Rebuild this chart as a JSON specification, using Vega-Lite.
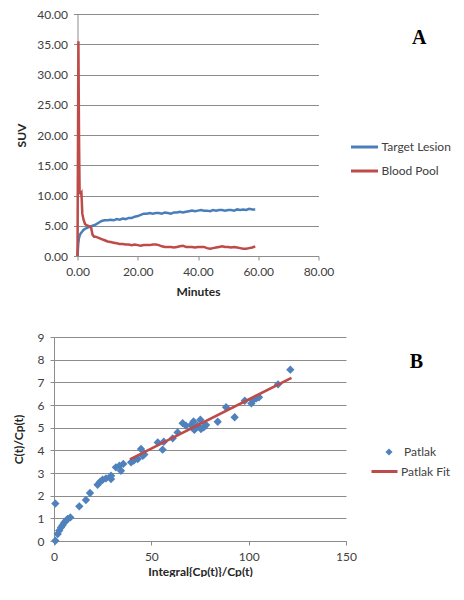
{
  "$schema": "https://vega.github.io/schema/vega-lite/v6.json",
  "background": "white",
  "padding": {"left": 12, "top": 8, "right": 0, "bottom": 0},
  "config": {
    "font": "Lato",
    "view": {"stroke": null},
    "axis": {
      "labelColor": "#404040",
      "titleColor": "#262626",
      "labelFontSize": 12,
      "titleFontSize": 12,
      "titleFontWeight": "bold",
      "gridColor": "#8c8c8c",
      "domainColor": "#8c8c8c",
      "tickColor": "#8c8c8c",
      "tickSize": 4,
      "labelPadding": 6,
      "labelFlush": false,
      "labelOverlap": false
    },
    "legend": {"labelFontSize": 12, "labelColor": "#404040", "padding": 0}
  },
  "columns": 1,
  "center": true,
  "spacing": 34,
  "resolve": {
    "scale": {"color": "independent", "stroke": "independent"},
    "legend": {"color": "independent", "stroke": "independent"}
  },
  "concat": [
    {
      "width": 241,
      "height": 242,
      "title": {"text": "A", "anchor": "end", "frame": "group", "font": "Liberation Serif", "fontSize": 20, "fontWeight": "bold", "color": "black", "dx": 108, "dy": 56, "offset": 0, "baseline": "alphabetic"},
      "data": {"values": [
        {"series": "Target Lesion", "t": 0, "v": 0},
        {"series": "Target Lesion", "t": 0.25, "v": 2.0},
        {"series": "Target Lesion", "t": 0.5, "v": 3.0},
        {"series": "Target Lesion", "t": 0.75, "v": 3.4},
        {"series": "Target Lesion", "t": 1, "v": 3.7},
        {"series": "Target Lesion", "t": 1.5, "v": 4.0},
        {"series": "Target Lesion", "t": 2, "v": 4.3},
        {"series": "Target Lesion", "t": 2.5, "v": 4.5},
        {"series": "Target Lesion", "t": 3, "v": 4.6},
        {"series": "Target Lesion", "t": 4, "v": 4.8},
        {"series": "Target Lesion", "t": 5, "v": 5.0},
        {"series": "Target Lesion", "t": 6, "v": 5.2},
        {"series": "Target Lesion", "t": 7, "v": 5.5},
        {"series": "Target Lesion", "t": 8, "v": 5.8},
        {"series": "Target Lesion", "t": 9, "v": 5.9},
        {"series": "Target Lesion", "t": 10, "v": 5.9},
        {"series": "Target Lesion", "t": 11, "v": 6.0},
        {"series": "Target Lesion", "t": 12, "v": 5.9},
        {"series": "Target Lesion", "t": 13, "v": 6.1},
        {"series": "Target Lesion", "t": 14, "v": 6.0},
        {"series": "Target Lesion", "t": 15, "v": 6.2},
        {"series": "Target Lesion", "t": 16, "v": 6.1},
        {"series": "Target Lesion", "t": 17, "v": 6.3},
        {"series": "Target Lesion", "t": 18, "v": 6.3},
        {"series": "Target Lesion", "t": 19, "v": 6.5},
        {"series": "Target Lesion", "t": 20, "v": 6.6},
        {"series": "Target Lesion", "t": 21, "v": 6.8},
        {"series": "Target Lesion", "t": 22, "v": 7.0},
        {"series": "Target Lesion", "t": 23, "v": 7.0},
        {"series": "Target Lesion", "t": 24, "v": 7.1},
        {"series": "Target Lesion", "t": 25, "v": 7.0},
        {"series": "Target Lesion", "t": 26, "v": 7.1},
        {"series": "Target Lesion", "t": 27, "v": 7.1},
        {"series": "Target Lesion", "t": 28, "v": 7.0},
        {"series": "Target Lesion", "t": 29, "v": 7.2},
        {"series": "Target Lesion", "t": 30, "v": 7.1},
        {"series": "Target Lesion", "t": 31, "v": 7.0},
        {"series": "Target Lesion", "t": 32, "v": 7.2},
        {"series": "Target Lesion", "t": 33, "v": 7.2},
        {"series": "Target Lesion", "t": 34, "v": 7.3},
        {"series": "Target Lesion", "t": 35, "v": 7.2},
        {"series": "Target Lesion", "t": 36, "v": 7.3},
        {"series": "Target Lesion", "t": 37, "v": 7.4},
        {"series": "Target Lesion", "t": 38, "v": 7.5},
        {"series": "Target Lesion", "t": 39, "v": 7.4},
        {"series": "Target Lesion", "t": 40, "v": 7.5},
        {"series": "Target Lesion", "t": 41, "v": 7.6},
        {"series": "Target Lesion", "t": 42, "v": 7.5},
        {"series": "Target Lesion", "t": 43, "v": 7.5},
        {"series": "Target Lesion", "t": 44, "v": 7.4},
        {"series": "Target Lesion", "t": 45, "v": 7.6},
        {"series": "Target Lesion", "t": 46, "v": 7.5},
        {"series": "Target Lesion", "t": 47, "v": 7.6},
        {"series": "Target Lesion", "t": 48, "v": 7.6},
        {"series": "Target Lesion", "t": 49, "v": 7.5},
        {"series": "Target Lesion", "t": 50, "v": 7.6},
        {"series": "Target Lesion", "t": 51, "v": 7.6},
        {"series": "Target Lesion", "t": 52, "v": 7.5},
        {"series": "Target Lesion", "t": 53, "v": 7.7},
        {"series": "Target Lesion", "t": 54, "v": 7.6},
        {"series": "Target Lesion", "t": 55, "v": 7.7},
        {"series": "Target Lesion", "t": 56, "v": 7.6},
        {"series": "Target Lesion", "t": 57, "v": 7.8},
        {"series": "Target Lesion", "t": 58, "v": 7.7},
        {"series": "Target Lesion", "t": 59, "v": 7.7},
        {"series": "Blood Pool", "t": 0, "v": 0},
        {"series": "Blood Pool", "t": 0.3, "v": 35.5},
        {"series": "Blood Pool", "t": 0.5, "v": 20},
        {"series": "Blood Pool", "t": 0.7, "v": 10.5},
        {"series": "Blood Pool", "t": 1.0, "v": 10.3},
        {"series": "Blood Pool", "t": 1.3, "v": 10.5},
        {"series": "Blood Pool", "t": 1.6, "v": 7.0},
        {"series": "Blood Pool", "t": 2, "v": 6.0},
        {"series": "Blood Pool", "t": 2.5, "v": 5.3},
        {"series": "Blood Pool", "t": 3, "v": 5.1},
        {"series": "Blood Pool", "t": 4, "v": 4.9},
        {"series": "Blood Pool", "t": 4.5, "v": 4.7},
        {"series": "Blood Pool", "t": 5, "v": 3.5},
        {"series": "Blood Pool", "t": 5.5, "v": 3.2},
        {"series": "Blood Pool", "t": 6, "v": 3.2},
        {"series": "Blood Pool", "t": 7, "v": 3.0},
        {"series": "Blood Pool", "t": 8, "v": 2.8},
        {"series": "Blood Pool", "t": 9, "v": 2.6},
        {"series": "Blood Pool", "t": 10, "v": 2.4},
        {"series": "Blood Pool", "t": 11, "v": 2.3},
        {"series": "Blood Pool", "t": 12, "v": 2.2},
        {"series": "Blood Pool", "t": 13, "v": 2.1},
        {"series": "Blood Pool", "t": 14, "v": 2.0},
        {"series": "Blood Pool", "t": 15, "v": 2.0},
        {"series": "Blood Pool", "t": 16, "v": 1.9},
        {"series": "Blood Pool", "t": 17, "v": 1.9},
        {"series": "Blood Pool", "t": 18, "v": 1.8},
        {"series": "Blood Pool", "t": 19, "v": 1.9},
        {"series": "Blood Pool", "t": 20, "v": 1.8},
        {"series": "Blood Pool", "t": 21, "v": 1.7},
        {"series": "Blood Pool", "t": 22, "v": 1.8},
        {"series": "Blood Pool", "t": 23, "v": 1.8},
        {"series": "Blood Pool", "t": 24, "v": 1.8},
        {"series": "Blood Pool", "t": 25, "v": 1.9},
        {"series": "Blood Pool", "t": 26, "v": 1.9},
        {"series": "Blood Pool", "t": 27, "v": 1.8},
        {"series": "Blood Pool", "t": 28, "v": 1.6},
        {"series": "Blood Pool", "t": 29, "v": 1.5},
        {"series": "Blood Pool", "t": 30, "v": 1.5},
        {"series": "Blood Pool", "t": 31, "v": 1.5},
        {"series": "Blood Pool", "t": 32, "v": 1.4},
        {"series": "Blood Pool", "t": 33, "v": 1.5},
        {"series": "Blood Pool", "t": 34, "v": 1.6},
        {"series": "Blood Pool", "t": 35, "v": 1.7},
        {"series": "Blood Pool", "t": 36, "v": 1.5},
        {"series": "Blood Pool", "t": 37, "v": 1.5},
        {"series": "Blood Pool", "t": 38, "v": 1.5},
        {"series": "Blood Pool", "t": 39, "v": 1.4},
        {"series": "Blood Pool", "t": 40, "v": 1.5},
        {"series": "Blood Pool", "t": 41, "v": 1.5},
        {"series": "Blood Pool", "t": 42, "v": 1.5},
        {"series": "Blood Pool", "t": 43, "v": 1.3},
        {"series": "Blood Pool", "t": 44, "v": 1.2},
        {"series": "Blood Pool", "t": 45, "v": 1.3},
        {"series": "Blood Pool", "t": 46, "v": 1.4},
        {"series": "Blood Pool", "t": 47, "v": 1.5},
        {"series": "Blood Pool", "t": 48, "v": 1.6},
        {"series": "Blood Pool", "t": 49, "v": 1.5},
        {"series": "Blood Pool", "t": 50, "v": 1.5},
        {"series": "Blood Pool", "t": 51, "v": 1.4},
        {"series": "Blood Pool", "t": 52, "v": 1.5},
        {"series": "Blood Pool", "t": 53, "v": 1.4},
        {"series": "Blood Pool", "t": 54, "v": 1.3},
        {"series": "Blood Pool", "t": 55, "v": 1.2},
        {"series": "Blood Pool", "t": 56, "v": 1.2},
        {"series": "Blood Pool", "t": 57, "v": 1.3},
        {"series": "Blood Pool", "t": 58, "v": 1.4},
        {"series": "Blood Pool", "t": 59, "v": 1.6}
      ]},
      "mark": {"type": "line", "strokeWidth": 2.5},
      "encoding": {
        "x": {"field": "t", "type": "quantitative", "scale": {"domain": [0, 80], "nice": false},
              "axis": {"title": "Minutes", "values": [0, 20, 40, 60, 80], "format": ".2f", "grid": false, "titlePadding": 9}},
        "y": {"field": "v", "type": "quantitative", "scale": {"domain": [0, 40], "nice": false},
              "axis": {"title": "SUV", "values": [0, 5, 10, 15, 20, 25, 30, 35, 40], "format": ".2f", "grid": true, "titlePadding": 8}},
        "color": {"field": "series", "type": "nominal",
                  "scale": {"domain": ["Target Lesion", "Blood Pool"], "range": ["#4A7EBB", "#BE4B48"]},
                  "legend": {"title": null, "orient": "none", "legendX": 272, "legendY": 118, "symbolType": "stroke", "symbolSize": 729, "symbolStrokeWidth": 3, "labelOffset": 2, "rowPadding": 3}}
      }
    },
    {
      "width": 292,
      "height": 204,
      "title": {"text": "B", "anchor": "end", "frame": "group", "font": "Liberation Serif", "fontSize": 20, "fontWeight": "bold", "color": "black", "dx": 77, "dy": 57, "offset": 0, "baseline": "alphabetic"},
      "encoding": {
        "x": {"field": "x", "type": "quantitative", "scale": {"domain": [0, 150], "nice": false},
              "axis": {"title": "Integral{Cp(t)}/Cp(t)", "values": [0, 50, 100, 150], "grid": false, "titlePadding": 4}},
        "y": {"field": "y", "type": "quantitative", "scale": {"domain": [0, 9], "nice": false},
              "axis": {"title": "C(t)/Cp(t)", "values": [0, 1, 2, 3, 4, 5, 6, 7, 8, 9], "grid": true, "titlePadding": 12}}
      },
      "layer": [
        {
          "data": {"values": [
            {"series": "Patlak", "x": 0.7, "y": 1.65},
            {"series": "Patlak", "x": 0.7, "y": 0.01},
            {"series": "Patlak", "x": 1.9, "y": 0.31},
            {"series": "Patlak", "x": 2.7, "y": 0.46},
            {"series": "Patlak", "x": 3.6, "y": 0.6},
            {"series": "Patlak", "x": 4.4, "y": 0.7},
            {"series": "Patlak", "x": 5.3, "y": 0.82},
            {"series": "Patlak", "x": 6.2, "y": 0.9},
            {"series": "Patlak", "x": 7.0, "y": 0.97},
            {"series": "Patlak", "x": 8.4, "y": 1.04},
            {"series": "Patlak", "x": 13.0, "y": 1.53},
            {"series": "Patlak", "x": 16.4, "y": 1.81},
            {"series": "Patlak", "x": 18.5, "y": 2.12},
            {"series": "Patlak", "x": 22.4, "y": 2.48},
            {"series": "Patlak", "x": 23.8, "y": 2.62},
            {"series": "Patlak", "x": 25.0, "y": 2.7},
            {"series": "Patlak", "x": 26.7, "y": 2.76},
            {"series": "Patlak", "x": 29.3, "y": 2.88},
            {"series": "Patlak", "x": 29.3, "y": 2.73},
            {"series": "Patlak", "x": 31.8, "y": 3.25},
            {"series": "Patlak", "x": 33.6, "y": 3.32},
            {"series": "Patlak", "x": 34.4, "y": 3.1},
            {"series": "Patlak", "x": 35.6, "y": 3.4},
            {"series": "Patlak", "x": 39.6, "y": 3.47},
            {"series": "Patlak", "x": 41.0, "y": 3.55},
            {"series": "Patlak", "x": 43.0, "y": 3.62},
            {"series": "Patlak", "x": 44.7, "y": 4.06},
            {"series": "Patlak", "x": 45.6, "y": 3.76},
            {"series": "Patlak", "x": 46.4, "y": 3.82},
            {"series": "Patlak", "x": 53.3, "y": 4.35},
            {"series": "Patlak", "x": 56.4, "y": 4.38},
            {"series": "Patlak", "x": 55.8, "y": 4.03},
            {"series": "Patlak", "x": 61.0, "y": 4.53},
            {"series": "Patlak", "x": 63.5, "y": 4.79},
            {"series": "Patlak", "x": 66.1, "y": 5.2},
            {"series": "Patlak", "x": 67.8, "y": 5.09},
            {"series": "Patlak", "x": 70.4, "y": 5.12},
            {"series": "Patlak", "x": 71.7, "y": 5.27},
            {"series": "Patlak", "x": 72.1, "y": 4.9},
            {"series": "Patlak", "x": 73.8, "y": 5.09},
            {"series": "Patlak", "x": 75.2, "y": 5.35},
            {"series": "Patlak", "x": 75.5, "y": 4.94},
            {"series": "Patlak", "x": 76.9, "y": 5.01},
            {"series": "Patlak", "x": 78.1, "y": 5.12},
            {"series": "Patlak", "x": 84.1, "y": 5.26},
            {"series": "Patlak", "x": 88.4, "y": 5.9},
            {"series": "Patlak", "x": 92.8, "y": 5.46},
            {"series": "Patlak", "x": 98.0, "y": 6.19},
            {"series": "Patlak", "x": 101.4, "y": 6.07},
            {"series": "Patlak", "x": 102.2, "y": 6.2},
            {"series": "Patlak", "x": 103.9, "y": 6.29},
            {"series": "Patlak", "x": 105.3, "y": 6.34},
            {"series": "Patlak", "x": 115.1, "y": 6.91},
            {"series": "Patlak", "x": 121.4, "y": 7.56}
          ]},
          "mark": {"type": "point", "shape": "diamond", "filled": true, "opacity": 1, "size": 70},
          "encoding": {
            "color": {"field": "series", "type": "nominal",
                      "scale": {"domain": ["Patlak"], "range": ["#4F81BD"]},
                      "legend": {"title": null, "orient": "none", "legendX": 329, "legendY": 109, "symbolType": "diamond", "symbolSize": 50, "labelOffset": 9}}
          }
        },
        {
          "data": {"values": [
            {"series": "Patlak Fit", "x": 39, "y": 3.6},
            {"series": "Patlak Fit", "x": 122, "y": 7.2}
          ]},
          "mark": {"type": "line", "strokeWidth": 2.5},
          "encoding": {
            "stroke": {"field": "series", "type": "nominal",
                       "scale": {"domain": ["Patlak Fit"], "range": ["#BE4B48"]},
                       "legend": {"title": null, "orient": "none", "legendX": 292, "legendY": 96, "padding": 24, "symbolType": "stroke", "symbolSize": 676, "symbolStrokeWidth": 3, "labelOffset": 2}}
          }
        }
      ]
    }
  ]
}
